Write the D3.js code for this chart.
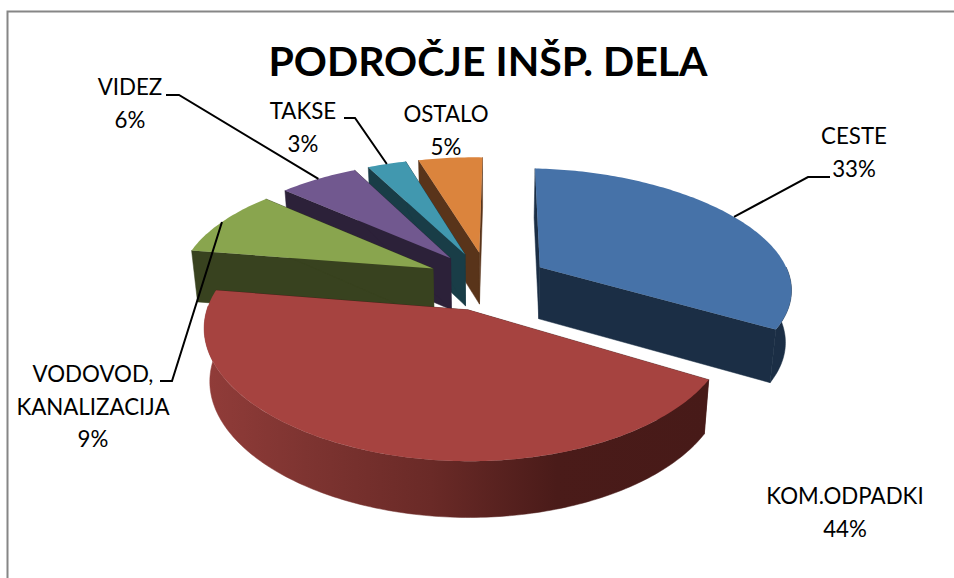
<!DOCTYPE html>
<html><head><meta charset="utf-8">
<script src="https://cdn.jsdelivr.net/npm/d3@7"></script>
<style>html,body{margin:0;padding:0;background:#fff}svg{display:block}text{font-family:Lato,"Open Sans",sans-serif;fill:#000}</style>
</head><body><svg id="c" width="954" height="578"></svg>
<script>
const titleText = "PODROČJE INŠP. DELA";
const categories = ["CESTE","KOM.ODPADKI","VODOVOD,\nKANALIZACIJA","VIDEZ","TAKSE","OSTALO"];
const values = [33,44,9,6,3,5];
const topColors = ["#4672A8","#A64340","#89A54E","#71588F","#4198AF","#DB843D"];
const wallColors = ["#1B2E45","#4A1B19","#38421F","#2C2139","#193D47","#59341A"];

// layout
const cx=488, cy=281, A=248, B=118, k=0.154, bulge=0.02, shearX=2, shearY=4, explode=0.25, wallH=52, shrink=0.98;
const svg=d3.select("#c");
const proj=(u,v)=>{const s=1/(1-k*v), w=u*(1+bulge*(u*u-0.8));return [cx+A*w*s-shearX*v, cy+B*v*s+shearY*u, s];};
const ground=(d,th,r)=>{const m=(d.startAngle+d.endAngle)/2;
  return [explode*Math.sin(m)+r*Math.sin(th), -explode*Math.cos(m)-r*Math.cos(th)];};
const topPt=(d,th,r)=>{const g=ground(d,th,r);return proj(g[0],g[1]).slice(0,2);};
const botPt=(d,th,r)=>{const g=ground(d,th,r),p=proj(g[0],g[1]);
  return [cx+(p[0]-cx)*shrink, p[1]+wallH*(0.65+0.35*p[2])];};
const line=d3.line();
const arcAngles=(a,b)=>{const n=Math.max(2,Math.ceil((b-a)/(Math.PI/180)));return d3.range(n+1).map(i=>a+(b-a)*i/n);};

const pie=d3.pie().sort(null).value(d=>d).startAngle(0).endAngle(2*Math.PI);
const arcs=pie(values);

const defs=svg.append("defs");
const grad=defs.append("linearGradient").attr("id","redWall").attr("gradientUnits","userSpaceOnUse")
  .attr("x1",205).attr("x2",707).attr("y1",0).attr("y2",0);
[[0,"#913C39"],[0.2,"#7E3431"],[0.45,"#6A2A27"],[0.7,"#4A1B19"],[1,"#471A18"]].forEach(s=>grad.append("stop").attr("offset",s[0]).attr("stop-color",s[1]));

svg.append("rect").attr("x",7.5).attr("y",11.5).attr("width",960).attr("height",600).attr("fill","#fff").attr("stroke","#868686").attr("stroke-width",2);

const order=[5,4,3,2,0,1];
const visA=88*Math.PI/180, visB=270*Math.PI/180;
order.forEach(i=>{
  const d=arcs[i], g=svg.append("g");
  [d.startAngle,d.endAngle].forEach(th=>{
    const pts=[topPt(d,th,0),topPt(d,th,1),botPt(d,th,1),botPt(d,th,0)];
    g.append("path").attr("d",line(pts)+"Z").attr("fill",wallColors[i]).attr("stroke",wallColors[i]).attr("stroke-width",0.5);
  });
  const a=Math.max(d.startAngle,visA), b=Math.min(d.endAngle,visB);
  if(b>a){
    const as=arcAngles(a,b);
    const pts=as.map(t=>topPt(d,t,1)).concat(as.slice().reverse().map(t=>botPt(d,t,1)));
    const fill=i===1?"url(#redWall)":wallColors[i];
    g.append("path").attr("d",line(pts)+"Z").attr("fill",fill).attr("stroke",fill).attr("stroke-width",0.5);
  }
  const as=arcAngles(d.startAngle,d.endAngle);
  const pts=[topPt(d,0,0)].concat(as.map(t=>topPt(d,t,1)));
  g.append("path").attr("d",line(pts)+"Z").attr("fill",topColors[i]);
});

// leader lines: label side points, then the point on the slice's rim
const leaders=[
  {i:0,pts:[[830,177],[808,177]]},
  {i:2,pts:[[160,381],[172,381]]},
  {i:3,pts:[[166,95],[179,95]]},
  {i:4,pts:[[344,118],[355,118]]}
];
leaders.forEach(l=>{
  const d=arcs[l.i], m=(d.startAngle+d.endAngle)/2;
  svg.append("path").attr("d",line(l.pts.concat([topPt(d,m,1)]))).attr("fill","none").attr("stroke","#000").attr("stroke-width",2);
});

svg.append("text").attr("x",488).attr("y",76).attr("text-anchor","middle").attr("font-size",41).attr("font-weight",700).text(titleText);

const labelPos=[[854,144],[845,504],[93,382],[130,95],[303,119],[446,122]];
categories.forEach((c,i)=>{
  const lines=c.split("\n").concat([values[i]+"%"]);
  lines.forEach((t,j)=>svg.append("text").attr("x",labelPos[i][0]).attr("y",labelPos[i][1]+j*32.7).attr("text-anchor","middle").attr("font-size",22.3).text(t));
});
</script></body></html>
